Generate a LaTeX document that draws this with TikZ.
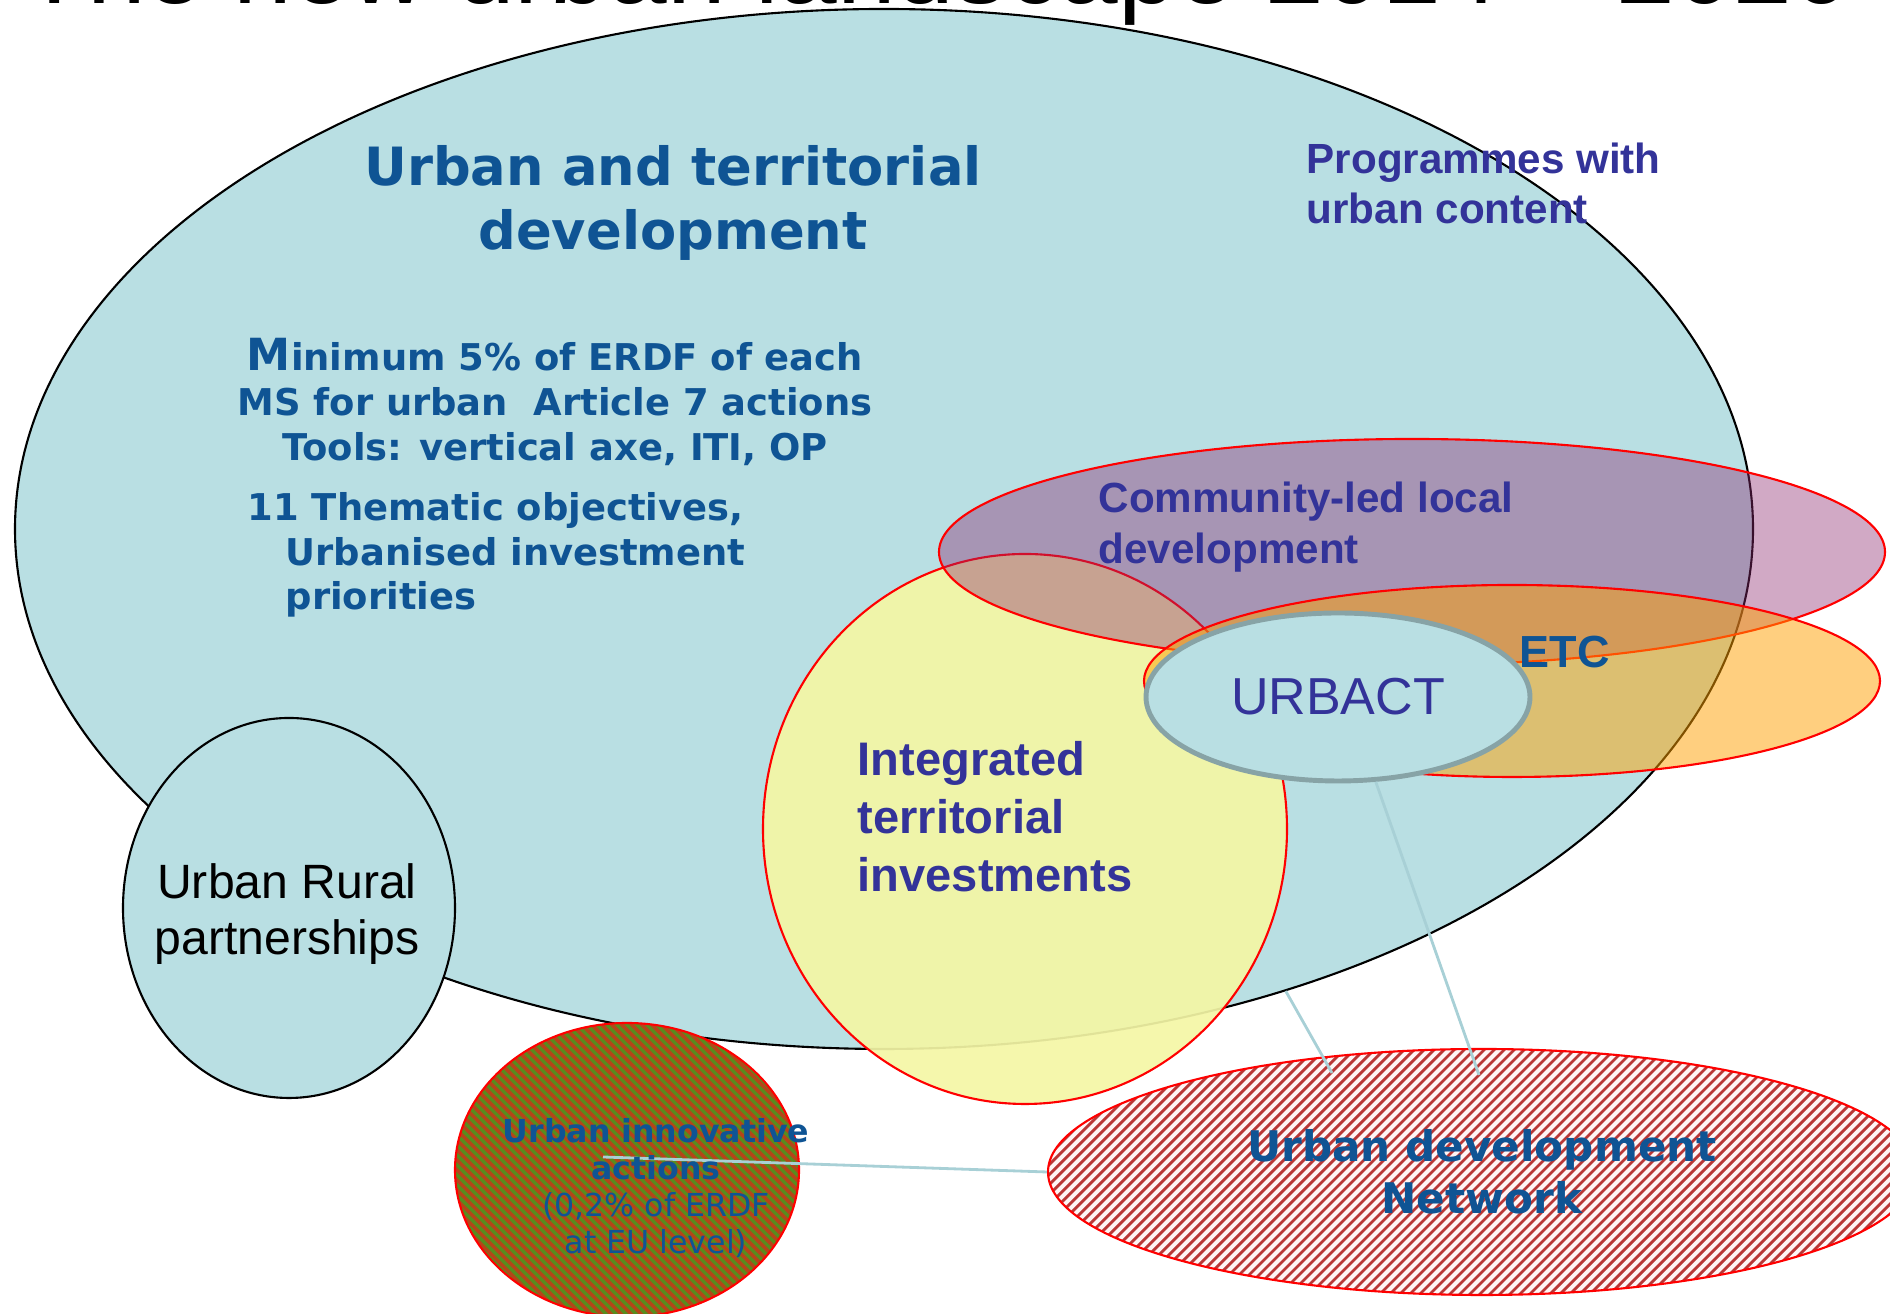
\documentclass[tikz,border=0pt]{standalone}
\usepackage{fontspec}
\setmainfont{Liberation Sans}
\newfontfamily\VerdanaLike{DejaVu Sans}
\usetikzlibrary{shapes.geometric}
\usetikzlibrary{calc}
\usetikzlibrary{positioning}
\definecolor{PaleBlue}{RGB}{185,223,227}
\definecolor{TextBlue}{RGB}{15,84,148}
\definecolor{TextIndigo}{RGB}{51,51,153}
\definecolor{PaleYellow}{RGB}{244,246,165}
\definecolor{Plum}{RGB}{140,40,110}
\definecolor{Amber}{RGB}{255,160,0}
\definecolor{RimGrey}{RGB}{135,163,166}
\definecolor{LinkBlue}{RGB}{168,208,214}
\definecolor{StripeRed}{RGB}{185,55,55}
\definecolor{StripeRust}{RGB}{180,70,25}
\definecolor{StripeGreen}{RGB}{88,140,30}
\newcommand{\SetSize}[2]{\fontsize{#1}{#2}\selectfont}

\begin{document}
\begin{tikzpicture}[
	blob/.style={ellipse, inner sep=0pt, line width=0.6pt},
	redrim/.style={draw=red, line width=0.6pt},
	link/.style={draw=LinkBlue, line width=0.8pt},
	label/.style={inner sep=0pt},
	]
	\def\Gap{0.1}
	\useasboundingbox (0,0) rectangle (18.9,13.14);
	\clip (0,0) rectangle (18.9,13.14);
	%%%%%%%%%%%%%%%%%%%%%%%%%%%%%%%%%%%%%%%%%%%%%%%%%%%%%%%%%%
	% urban and territorial development
	\node[blob, draw=black, fill=PaleBlue, minimum width=17.38cm, minimum height=10.4cm] (utd) at (8.84,7.85) {};
	
	% urban rural partnerships
	\node[blob, draw=black, fill=PaleBlue, minimum width=3.32cm, minimum height=3.8cm] (urp) at (2.89,4.06) {};
	
	% integrated territorial investments
	\node[blob, redrim, fill=PaleYellow, fill opacity=0.92, minimum width=5.24cm, minimum height=5.5cm] (iti) at (10.25,4.85) {};
	
	% community-led local development
	\node[blob, redrim, fill=Plum, fill opacity=0.4, minimum width=9.46cm, minimum height=2.26cm] (clld) at (14.12,7.62) {};
	
	% ETC
	\node[blob, redrim, fill=Amber, fill opacity=0.5, minimum width=7.36cm, minimum height=1.92cm] (etc) at (15.12,6.33) {};
	
	% URBACT
	\node[blob, draw=RimGrey, line width=1.4pt, fill=PaleBlue, minimum width=3.84cm, minimum height=1.68cm, text=TextIndigo, font=\SetSize{14.8}{16}] (urbact) at (13.38,6.17) {URBACT};
	
	% urban development network
	\node[blob, redrim, fill=red!4, minimum width=8.68cm, minimum height=2.46cm, align=center, text=TextBlue, font=\VerdanaLike\bfseries\SetSize{12}{14.8},
		path picture={
			\foreach \k in {-58,...,58}
				\draw[StripeRed, line width=0.8pt] ($(path picture bounding box.center)+(\k*\Gap,0)$) +(-1.3,-1.3) -- +(1.3,1.3);
		}] (udn) at (14.82,1.42) {Urban development\\Network};
	
	% urban innovative actions
	\node[blob, redrim, fill=StripeGreen, minimum width=3.44cm, minimum height=2.94cm,
		path picture={
			\foreach \k in {-34,...,34}
				\draw[StripeRust, line width=1pt] ($(path picture bounding box.center)+(\k*\Gap,0)$) +(-1.6,1.6) -- +(1.6,-1.6);
		}] (uia) at (6.27,1.44) {};
	
	%%%%%%%%%%%%%%%%%%%%%%%%%%%%%%%%%%%%%%%%%%%%%%%%%%%%%%%%%%
	% links to the network
	\coordinate (udnA) at (14.79,2.39);
	\coordinate (udnB) at (13.32,2.41);
	\coordinate (uiaHub) at (6.03,1.57);
	\draw[link] (urbact.-66) -- (udnA);
	\draw[link] (utd.-49) -- (udnB);
	\draw[link] (uiaHub) -- (udn.west);
	
	%%%%%%%%%%%%%%%%%%%%%%%%%%%%%%%%%%%%%%%%%%%%%%%%%%%%%%%%%%
	% texts
	\node[label, anchor=north, align=center, text=TextBlue, font=\VerdanaLike\bfseries\SetSize{15}{18.2}] (utdtext) at (6.73,11.69) {Urban and territorial\\development};
	\node[label, anchor=north, align=center, text=TextBlue, font=\VerdanaLike\bfseries\SetSize{10.5}{12.8}] (sharetext) at (5.55,9.76) {{\SetSize{12.6}{12.8}M}inimum 5\% of ERDF of each\\MS for urban~ Article 7 actions\\Tools: vertical axe, ITI, OP};
	\node[label, anchor=north west, align=left, text=TextBlue, font=\VerdanaLike\bfseries\SetSize{10.5}{12.6}] (themetext) at (2.47,8.22) {11 Thematic objectives,\\\hspace*{0.38cm}Urbanised investment\\\hspace*{0.38cm}priorities};
	\node[label, anchor=north west, align=left, text=TextIndigo, font=\bfseries\SetSize{12}{14.4}] (progtext) at (13.06,11.72) {Programmes with\\urban content};
	\node[label, anchor=north west, align=left, text=TextIndigo, font=\bfseries\SetSize{12}{14.5}] (clldtext) at (10.98,8.33) {Community-led local\\development};
	\node[label, anchor=base west, text=TextBlue, font=\bfseries\SetSize{12.8}{14}] (etctext) at (15.19,6.46) {ETC};
	\node[label, anchor=north west, align=left, text=TextIndigo, font=\bfseries\SetSize{13.4}{16.5}] (ititext) at (8.57,5.73) {Integrated\\territorial\\investments};
	\node[label, anchor=north, align=center, font=\SetSize{13.7}{15.9}] (urptext) at (2.87,4.51) {Urban Rural\\partnerships};
	\node[label, anchor=north, align=center, text=TextBlue, font=\VerdanaLike\bfseries\SetSize{9}{10.5}] (uiatext) at (6.56,1.96) {Urban innovative\\actions\\\mdseries(0,2\% of ERDF\\\mdseries at EU level)};
	
	% heading, cut by the top edge
	\node[label, anchor=base west, font=\SetSize{30}{32}] (heading) at (0.22,13.1) {The new urban landscape 2014 – 2020};
\end{tikzpicture}
\end{document}
